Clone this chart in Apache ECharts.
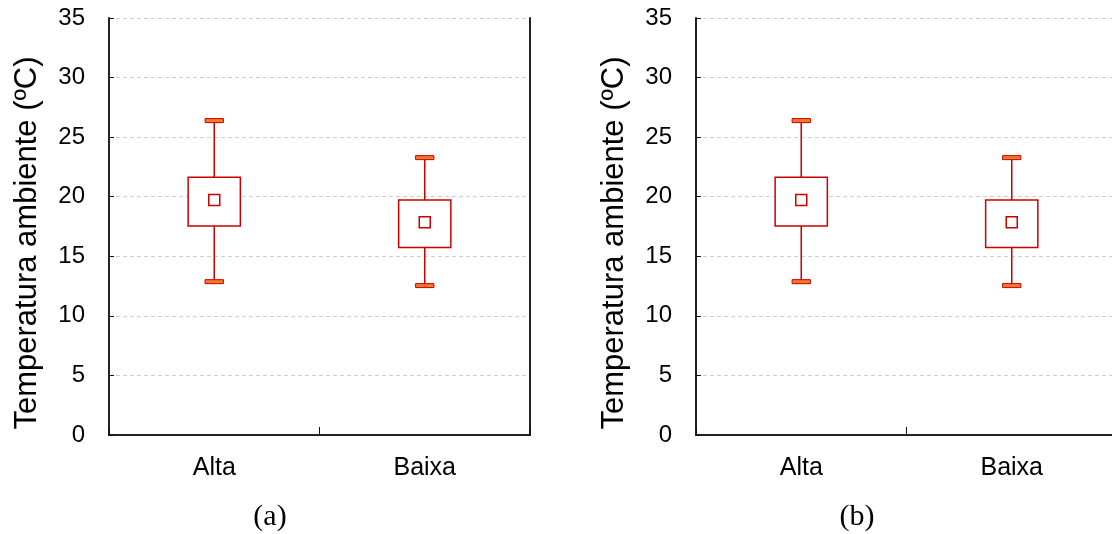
<!DOCTYPE html>
<html>
<head>
<meta charset="utf-8">
<script src="https://cdn.jsdelivr.net/npm/echarts@6/dist/echarts.min.js"></script>
<style>
  html, body { margin: 0; padding: 0; background: #fff; }
  #main { width: 1112px; height: 534px; }
</style>
</head>
<body>
<div id="main"></div>
<script>
// data (both panels show the same values)
const categories = ['Alta', 'Baixa'];
const whiskerLow = [12.87, 12.54];
const q1 = [17.55, 15.73];
const mean = [19.73, 17.86];
const q3 = [21.63, 19.73];
const whiskerHigh = [26.39, 23.28];
const yTicks = [0, 5, 10, 15, 20, 25, 30, 35];
const panelTags = ['(a)', '(b)'];
const yTitle = 'Temperatura ambiente (ºC)';

const RED = '#cc0000';
const CAP = '#f07a28';
const FONT = '"Liberation Sans", Arial, sans-serif';
const FRAME = { color: '#222', width: 2 };

var myChart = echarts.init(document.getElementById('main'));

const rows = categories.map((c, i) => [i, whiskerLow[i], q1[i], mean[i], q3[i], whiskerHigh[i]]);

function renderBox(params, api) {
  const i = api.value(0);
  const lo = api.coord([i, api.value(1)]);
  const b1 = api.coord([i, api.value(2)]);
  const m = api.coord([i, api.value(3)]);
  const b3 = api.coord([i, api.value(4)]);
  const hi = api.coord([i, api.value(5)]);
  const band = api.size([1, 0])[0];
  const bw = band * 0.248;
  const cw = band * 0.087;
  const x = lo[0];
  const line = { stroke: RED, lineWidth: 1.5 };
  return {
    type: 'group',
    children: [
      { type: 'line', shape: { x1: x, y1: hi[1], x2: x, y2: b3[1] }, style: line },
      { type: 'line', shape: { x1: x, y1: b1[1], x2: x, y2: lo[1] }, style: line },
      { type: 'rect', shape: { x: x - bw / 2, y: b3[1], width: bw, height: b1[1] - b3[1] },
        style: { fill: '#fff', stroke: RED, lineWidth: 1.5 } },
      { type: 'rect', shape: { x: x - cw / 2, y: hi[1] - 2, width: cw, height: 4 },
        style: { fill: CAP, stroke: RED, lineWidth: 1 } },
      { type: 'rect', shape: { x: x - cw / 2, y: lo[1] - 2, width: cw, height: 4 },
        style: { fill: CAP, stroke: RED, lineWidth: 1 } },
      { type: 'rect', shape: { x: x - 5.5, y: m[1] - 5.5, width: 11, height: 11 },
        style: { fill: '#fff', stroke: RED, lineWidth: 1.5 } }
    ]
  };
}

const lefts = [109, 696];
const grids = [], xAxes = [], yAxes = [], series = [], graphics = [];

lefts.forEach((left, k) => {
  // the right panel runs a few pixels past the canvas edge, as in the original
  grids.push({ left: left, top: 18, width: 421, height: 417, outerBoundsMode: 'none', containLabel: false });
  // bottom axis with labels, top axis only as frame
  xAxes.push({
    type: 'category', gridIndex: k, data: categories, boundaryGap: true,
    axisLine: { lineStyle: FRAME },
    axisTick: { show: true, inside: true, length: 8, lineStyle: { color: '#111' } },
    axisLabel: { color: '#000', fontSize: 25, fontFamily: FONT, margin: 21 }
  });
  xAxes.push({
    type: 'category', gridIndex: k, data: categories, position: 'top',
    axisLine: { show: true, lineStyle: FRAME }, axisTick: { show: false }, axisLabel: { show: false }
  });
  yAxes.push({
    type: 'value', gridIndex: k, min: yTicks[0], max: yTicks[yTicks.length - 1], interval: 5,
    axisLine: { show: true, lineStyle: FRAME },
    axisTick: { show: true, inside: true, length: 5, lineStyle: { color: '#111' } },
    axisLabel: { color: '#000', fontSize: 24, fontFamily: FONT, margin: 24 },
    splitLine: { show: true, lineStyle: { color: '#d0d0d0', type: [4, 3], width: 1 } }
  });
  yAxes.push({
    type: 'value', gridIndex: k, position: 'right', min: yTicks[0], max: yTicks[yTicks.length - 1], interval: 5,
    axisLine: { show: true, lineStyle: FRAME }, axisTick: { show: false },
    axisLabel: { show: false }, splitLine: { show: false }
  });
  series.push({
    type: 'custom', xAxisIndex: 2 * k, yAxisIndex: 2 * k, data: rows,
    renderItem: renderBox, encode: { x: 0, y: [1, 2, 3, 4, 5] }, silent: true
  });
  graphics.push({
    type: 'text', x: left - 82, y: 243, rotation: Math.PI / 2,
    style: { text: yTitle, fill: '#000', font: '31px ' + FONT, align: 'center', verticalAlign: 'middle' }
  });
  graphics.push({
    type: 'text', x: left + 161, y: 517,
    style: { text: panelTags[k], fill: '#000', font: '30px "Liberation Serif", "Times New Roman", serif',
      align: 'center', verticalAlign: 'middle' }
  });
});

myChart.setOption({
  animation: false,
  grid: grids,
  xAxis: xAxes,
  yAxis: yAxes,
  series: series,
  graphic: graphics
});
</script>
</body>
</html>
